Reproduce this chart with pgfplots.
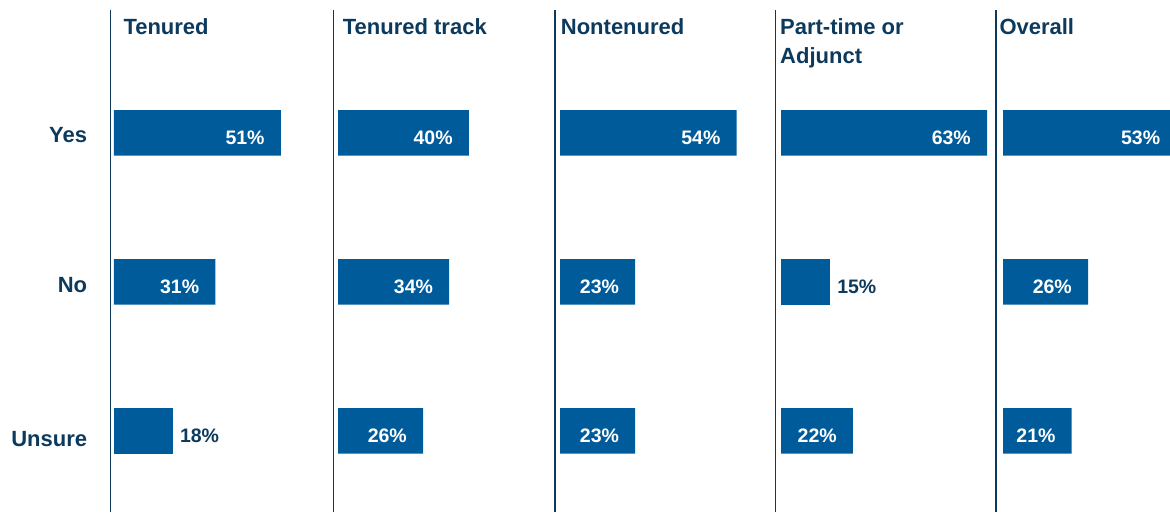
\documentclass[border=0pt]{standalone}
\usepackage{fontspec}
\setmainfont{Liberation Sans}
\usepackage{pgfplots}
\pgfplotsset{compat=1.18}
\definecolor{barblue}{RGB}{0,91,154}
\definecolor{navy}{RGB}{13,58,92}
\pgfplotsset{
  /pgf/number format/assume math mode=true,
  panel/.style={scale only axis, anchor=south west, height=502pt,
    ymin=-0.5446, ymax=2.8245, xmax=66,
    axis x line=none, axis y line*=left,
    axis line style={navy, line width=1.3pt},
    xtick=\empty, ytick=\empty, xbar, clip=false},
  barstyle/.style={fill=barblue, draw=none, bar width=45.7pt, bar shift=0pt,
    point meta=x,
    nodes near coords={\pgfmathprintnumber{\pgfplotspointmeta}\%},
    every node near coord/.append style={font=\bfseries\fontsize{19.5}{22}\selectfont, inner sep=0pt}},
  inlabel/.style={every node near coord/.append style={anchor=base east, xshift=-16pt, yshift=-11.4pt, text=white}},
  outlabel/.style={every node near coord/.append style={anchor=base west, xshift=7pt, yshift=-11.4pt, text=navy}},
}
\tikzset{
  head/.style={anchor=base west, inner sep=0pt, text=navy, font=\bfseries\fontsize{22}{26}\selectfont},
  rowlab/.style={anchor=base east, inner sep=0pt, text=navy, font=\bfseries\fontsize{22}{26}\selectfont},
}
\begin{document}
\begin{tikzpicture}
\useasboundingbox (0pt,0pt) rectangle (1170pt,512pt);
% Panel 1: Tenured
\begin{axis}[panel, at={(110.5pt,0pt)}, xmin=-1.070, width=219.32pt]
\addplot[barstyle, inlabel] coordinates {(51,2) (31,1)};
\addplot[barstyle, outlabel] coordinates {(18,0)};
\node[rowlab, xshift=-23.2pt, yshift=-9.85pt] at (axis cs:-1.070,2) {Yes};
\node[rowlab, xshift=-23.2pt, yshift=-11pt] at (axis cs:-1.070,1) {No};
\node[rowlab, xshift=-23.2pt, yshift=-15.85pt] at (axis cs:-1.070,0) {Unsure};
\node[head, xshift=12.8pt, yshift=-24.3pt] at (axis cs:-1.070,2.8245) {Tenured};
\end{axis}
% Panel 2: Tenured track
\begin{axis}[panel, at={(333.7pt,0pt)}, xmin=-1.315, width=220.12pt]
\addplot[barstyle, inlabel] coordinates {(40,2) (34,1) (26,0)};
\node[head, xshift=9pt, yshift=-24.3pt] at (axis cs:-1.315,2.8245) {Tenured track};
\end{axis}
% Panel 3: Nontenured
\begin{axis}[panel, at={(555pt,0pt)}, xmin=-1.529, width=220.82pt]
\addplot[barstyle, inlabel] coordinates {(54,2) (23,1) (23,0)};
\node[head, xshift=5.7pt, yshift=-24.3pt] at (axis cs:-1.529,2.8245) {Nontenured};
\end{axis}
% Panel 4: Part-time or Adjunct
\begin{axis}[panel, at={(775.7pt,0pt)}, xmin=-1.621, width=221.12pt]
\addplot[barstyle, inlabel] coordinates {(63,2) (22,0)};
\addplot[barstyle, outlabel] coordinates {(15,1)};
\node[head, xshift=4.3pt, yshift=-24.3pt] at (axis cs:-1.621,2.8245) {Part-time or};
\node[head, xshift=4.3pt, yshift=-53.3pt] at (axis cs:-1.621,2.8245) {Adjunct};
\end{axis}
% Panel 5: Overall
\begin{axis}[panel, at={(996pt,0pt)}, xmin=-2.141, width=222.82pt]
\addplot[barstyle, inlabel] coordinates {(53,2) (26,1) (21,0)};
\node[head, xshift=3.3pt, yshift=-24.3pt] at (axis cs:-2.141,2.8245) {Overall};
\end{axis}
\end{tikzpicture}
\end{document}
